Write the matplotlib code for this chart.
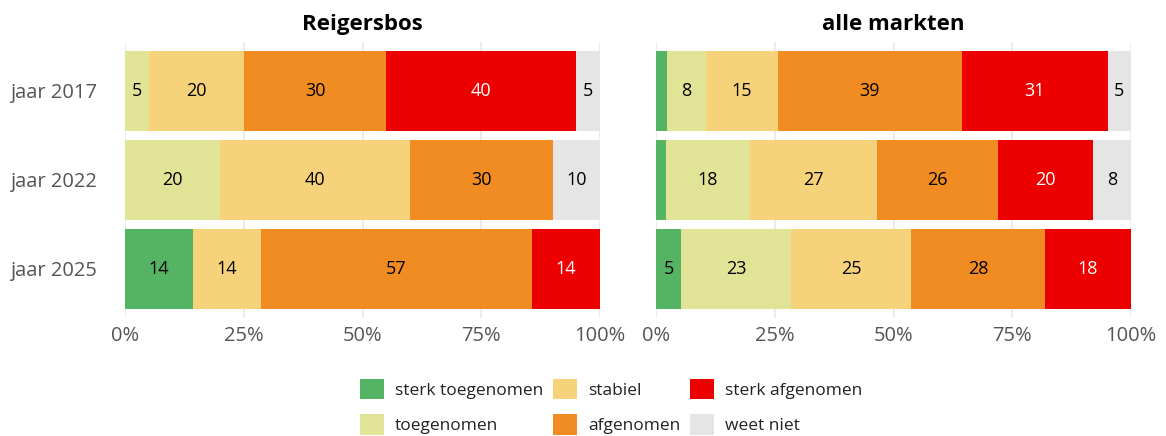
import numpy as np
import matplotlib
matplotlib.use("Agg")
import matplotlib.pyplot as plt
from matplotlib.patches import Patch

plt.rcParams['font.family'] = ['Open Sans', 'DejaVu Sans']

years = ["jaar 2017", "jaar 2022", "jaar 2025"]
categories = ["sterk toegenomen", "toegenomen", "stabiel", "afgenomen", "sterk afgenomen", "weet niet"]
colors = ["#55B463", "#E1E496", "#F6D27A", "#F18C23", "#EC0000", "#E5E5E5"]
text_colors = ["black", "black", "black", "black", "white", "black"]

# percentages per year, order of categories
reigersbos = {
    "sterk toegenomen": [0, 0, 14.29],
    "toegenomen": [5, 20, 0],
    "stabiel": [20, 40, 14.29],
    "afgenomen": [30, 30, 57.14],
    "sterk afgenomen": [40, 0, 14.29],
    "weet niet": [5, 10, 0],
}
alle_markten = {
    "sterk toegenomen": [2.3, 2.1, 5.3],
    "toegenomen": [8.2, 17.7, 23.1],
    "stabiel": [15.2, 26.7, 25.3],
    "afgenomen": [38.7, 25.6, 28.2],
    "sterk afgenomen": [30.7, 19.8, 18.1],
    "weet niet": [4.8, 8.1, 0],
}

fig = plt.figure(figsize=(11.66, 4.36), dpi=100)
ax1 = fig.add_axes([0.1072, 0.2706, 0.4074, 0.634])
ax2 = fig.add_axes([0.5626, 0.2706, 0.4074, 0.634])

def draw(ax, data, title, show_labels):
    y = np.arange(len(years))
    left = np.zeros(len(years))
    for cat, col, tc in zip(categories, colors, text_colors):
        vals = np.array(data[cat], dtype=float)
        ax.barh(y, vals, left=left, height=0.9, color=col, zorder=2)
        for yi, v, l in zip(y, vals, left):
            if v >= 3:
                ax.text(l + v / 2, yi, f"{v:.0f}", ha="center", va="center",
                        fontsize=13, color=tc, zorder=3)
        left += vals
    ax.set_xlim(0, 100)
    ax.set_ylim(len(years) - 0.45, -0.55)
    ax.set_xticks([0, 25, 50, 75, 100])
    ax.set_xticklabels(["0%", "25%", "50%", "75%", "100%"])
    ax.set_yticks(y)
    if show_labels:
        ax.set_yticklabels(years)
    else:
        ax.set_yticklabels([])
    ax.grid(axis="x", color="#E8E8E8", linewidth=1.2, zorder=0)
    for s in ax.spines.values():
        s.set_visible(False)
    ax.tick_params(length=0, labelsize=14.5, labelcolor="#555555", pad=6)
    ax.tick_params(axis="y", pad=20)
    ax.set_title(title, fontsize=16, fontweight="bold", pad=8)

draw(ax1, reigersbos, "Reigersbos", True)
draw(ax2, alle_markten, "alle markten", False)

handles = [Patch(facecolor=c, edgecolor="none") for c in colors]
fig.legend(handles, categories, loc="lower center", bbox_to_anchor=(0.524, -0.017),
           ncol=3, frameon=False, fontsize=12.5, handlelength=1.38, handleheight=1.44,
           columnspacing=0.55, handletextpad=0.63, labelspacing=0.85, borderpad=0,
           labelcolor="#222222")

fig.savefig("out.png", dpi=100)
